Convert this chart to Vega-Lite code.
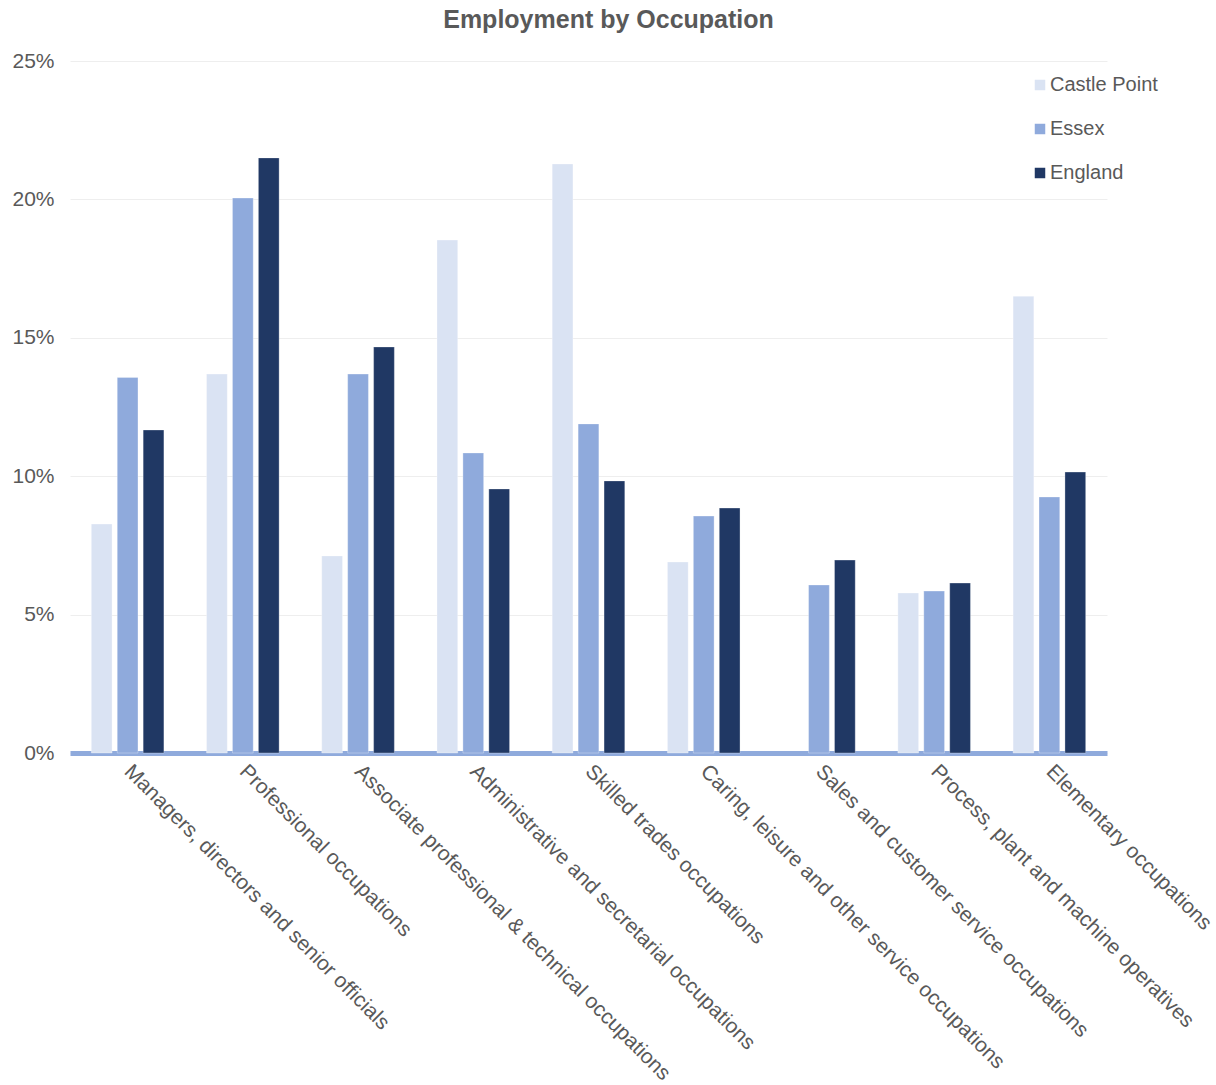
{
  "$schema": "https://vega.github.io/schema/vega-lite/v6.json",
  "autosize": {"type": "none"},
  "padding": {"left": 70, "top": 61, "right": 109, "bottom": 332},
  "width": 1037,
  "height": 692,
  "background": "white",
  "title": {
    "text": "Employment by Occupation",
    "font": "Liberation Sans",
    "fontSize": 25,
    "fontWeight": "bold",
    "color": "#595959",
    "anchor": "middle",
    "dx": 20,
    "offset": 17
  },
  "data": {
    "values": [
      {"occupation": "Managers, directors and senior officials", "area": "Castle Point", "value": 8.27},
      {"occupation": "Managers, directors and senior officials", "area": "Essex", "value": 13.57},
      {"occupation": "Managers, directors and senior officials", "area": "England", "value": 11.67},
      {"occupation": "Professional occupations", "area": "Castle Point", "value": 13.69},
      {"occupation": "Professional occupations", "area": "Essex", "value": 20.05},
      {"occupation": "Professional occupations", "area": "England", "value": 21.5},
      {"occupation": "Associate professional & technical occupations", "area": "Castle Point", "value": 7.12},
      {"occupation": "Associate professional & technical occupations", "area": "Essex", "value": 13.69},
      {"occupation": "Associate professional & technical occupations", "area": "England", "value": 14.67},
      {"occupation": "Administrative and secretarial occupations", "area": "Castle Point", "value": 18.53},
      {"occupation": "Administrative and secretarial occupations", "area": "Essex", "value": 10.84},
      {"occupation": "Administrative and secretarial occupations", "area": "England", "value": 9.54},
      {"occupation": "Skilled trades occupations", "area": "Castle Point", "value": 21.28},
      {"occupation": "Skilled trades occupations", "area": "Essex", "value": 11.89},
      {"occupation": "Skilled trades occupations", "area": "England", "value": 9.83},
      {"occupation": "Caring, leisure and other service occupations", "area": "Castle Point", "value": 6.9},
      {"occupation": "Caring, leisure and other service occupations", "area": "Essex", "value": 8.56},
      {"occupation": "Caring, leisure and other service occupations", "area": "England", "value": 8.85},
      {"occupation": "Sales and customer service occupations", "area": "Essex", "value": 6.07},
      {"occupation": "Sales and customer service occupations", "area": "England", "value": 6.97},
      {"occupation": "Process, plant and machine operatives", "area": "Castle Point", "value": 5.78},
      {"occupation": "Process, plant and machine operatives", "area": "Essex", "value": 5.85},
      {"occupation": "Process, plant and machine operatives", "area": "England", "value": 6.14},
      {"occupation": "Elementary occupations", "area": "Castle Point", "value": 16.5},
      {"occupation": "Elementary occupations", "area": "Essex", "value": 9.25},
      {"occupation": "Elementary occupations", "area": "England", "value": 10.15}
    ]
  },
  "mark": {"type": "bar", "stroke": "white", "strokeWidth": 0.6, "strokeOpacity": 0.5},
  "encoding": {
    "x": {
      "field": "occupation",
      "type": "nominal",
      "sort": null,
      "scale": {"paddingInner": 0.37, "paddingOuter": 0.185},
      "axis": {
        "title": null,
        "labelAngle": 45,
        "labelAlign": "left",
        "labelBaseline": "middle",
        "labelPadding": 15,
        "labelFont": "Liberation Sans",
        "labelFontSize": 21,
        "labelColor": "#595959",
        "labelLimit": 0,
        "ticks": false,
        "domainColor": "#8faadc",
        "domainWidth": 5,
        "grid": false
      }
    },
    "xOffset": {
      "field": "area",
      "type": "nominal",
      "sort": ["Castle Point", "Essex", "England"],
      "scale": {"paddingInner": 0.2}
    },
    "y": {
      "field": "value",
      "type": "quantitative",
      "scale": {"domain": [0, 25], "nice": false},
      "axis": {
        "title": null,
        "values": [0, 5, 10, 15, 20, 25],
        "labelExpr": "datum.value + '%'",
        "labelFont": "Liberation Sans",
        "labelFontSize": 21,
        "labelColor": "#595959",
        "labelPadding": 16,
        "ticks": false,
        "domain": false,
        "gridColor": "#eeeeee",
        "gridWidth": 1
      }
    },
    "color": {
      "field": "area",
      "type": "nominal",
      "sort": ["Castle Point", "Essex", "England"],
      "scale": {"domain": ["Castle Point", "Essex", "England"], "range": ["#dae3f3", "#8faadc", "#203864"]},
      "legend": {
        "title": null,
        "orient": "none",
        "legendX": 960,
        "legendY": 14,
        "symbolType": "square",
        "symbolSize": 110,
        "symbolStrokeWidth": 0,
        "labelFont": "Liberation Sans",
        "labelFontSize": 20,
        "labelColor": "#595959",
        "labelOffset": 0,
        "rowPadding": 24
      }
    }
  },
  "config": {"view": {"stroke": null}}
}
